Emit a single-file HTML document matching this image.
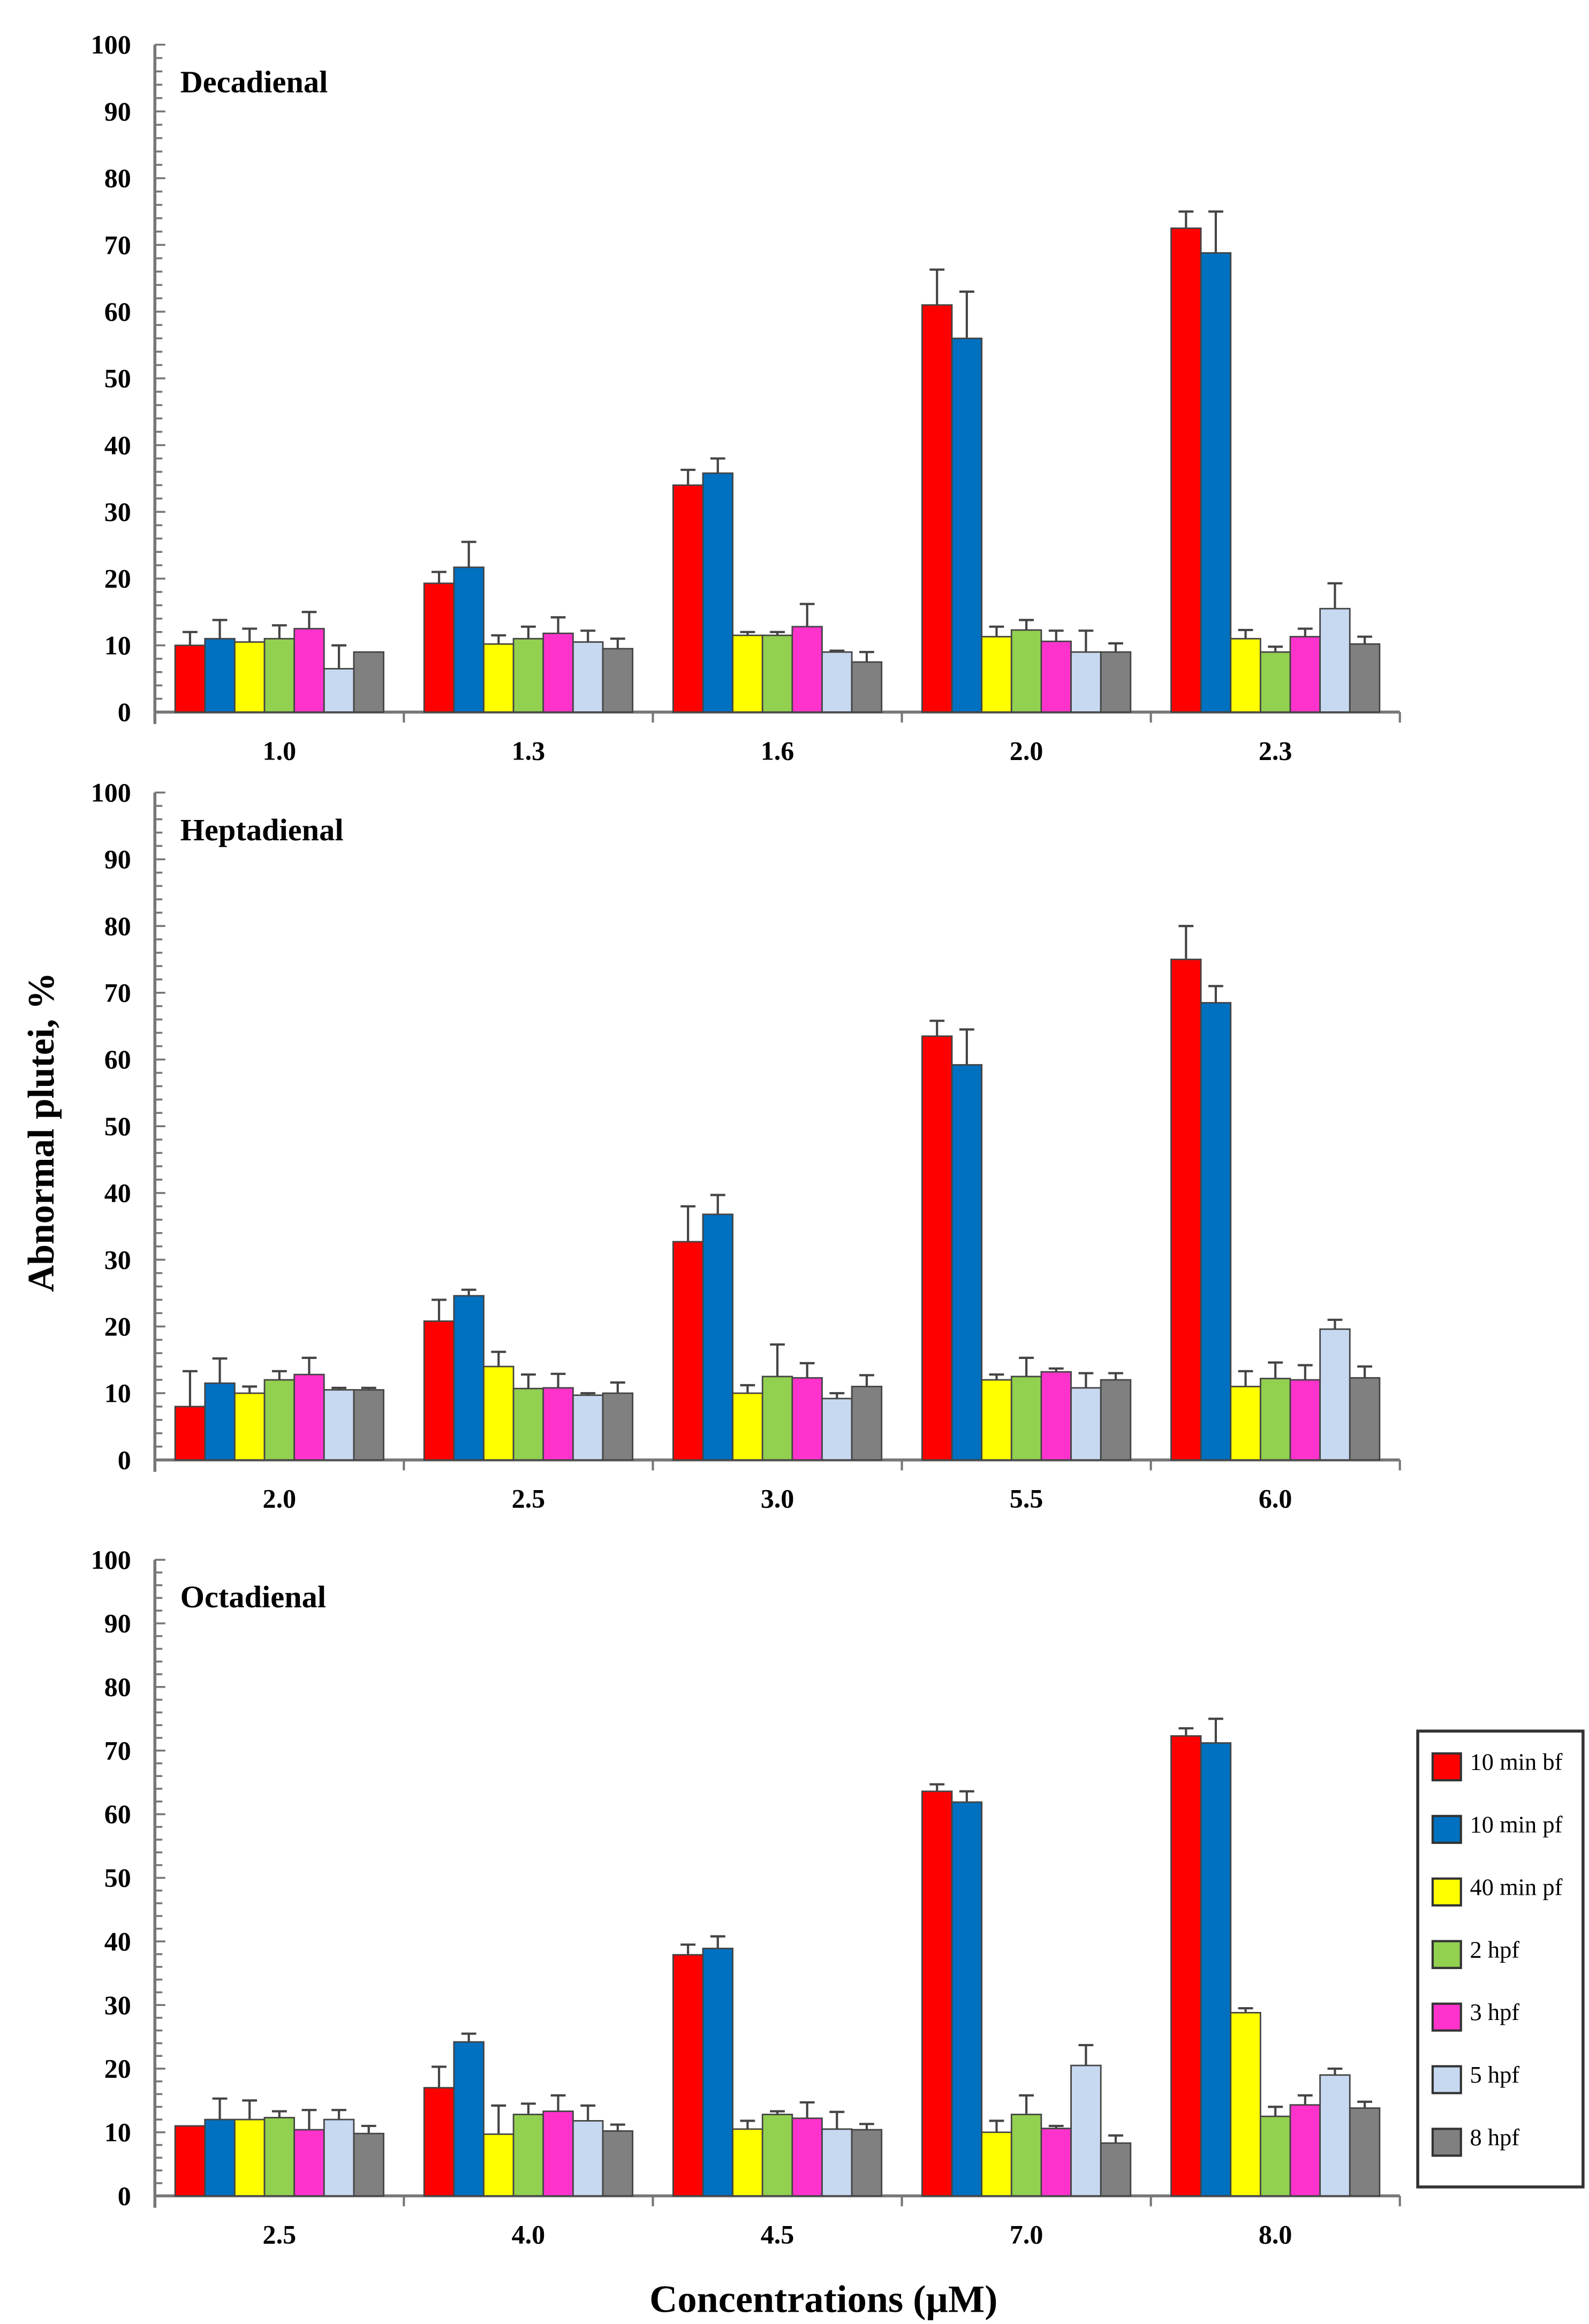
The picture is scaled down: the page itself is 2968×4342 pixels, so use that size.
<!DOCTYPE html>
<html><head><meta charset="utf-8"><style>
html,body{margin:0;padding:0;background:#fff;}
svg{display:block;}
text{font-family:"Liberation Serif",serif;font-weight:bold;fill:#000;}
</style></head><body>
<svg id="chart" xmlns="http://www.w3.org/2000/svg" width="2968" height="4342" viewBox="0 0 1067 1560" preserveAspectRatio="none"></svg>
<script>
const seriesNames = ["10 min bf","10 min pf","40 min pf","2 hpf","3 hpf","5 hpf","8 hpf"];
const seriesColors = ["#ff0000","#0070c0","#ffff00","#92d050","#ff33cc","#c6d9f1","#808080"];
const yTicks = [0,10,20,30,40,50,60,70,80,90,100];

const decaCats = ["1.0","1.3","1.6","2.0","2.3"];
const decaVals = [
  [10,11,10.5,11,12.5,6.5,9],
  [19.3,21.7,10.2,11,11.8,10.5,9.5],
  [34,35.8,11.5,11.5,12.8,9,7.5],
  [61,56,11.3,12.3,10.6,9,9],
  [72.5,68.8,11,9,11.3,15.5,10.2]];
const decaErr = [
  [2,2.8,2,2,2.5,3.5,0],
  [1.7,3.8,1.3,1.8,2.4,1.7,1.5],
  [2.3,2.2,0.5,0.5,3.4,0.2,1.5],
  [5.3,7,1.5,1.5,1.6,3.2,1.3],
  [2.5,6.2,1.3,0.8,1.2,3.8,1.1]];

const heptaCats = ["2.0","2.5","3.0","5.5","6.0"];
const heptaVals = [
  [8,11.5,10,12,12.8,10.5,10.5],
  [20.8,24.6,14,10.7,10.8,9.7,10],
  [32.7,36.8,10,12.5,12.3,9.2,11],
  [63.5,59.2,12,12.5,13.2,10.8,12],
  [75,68.5,11,12.2,12,19.6,12.3]];
const heptaErr = [
  [5.3,3.7,1,1.3,2.5,0.3,0.3],
  [3.2,0.9,2.2,2.1,2.1,0.3,1.6],
  [5.3,2.9,1.2,4.8,2.2,0.8,1.7],
  [2.3,5.3,0.8,2.8,0.5,2.2,1],
  [5,2.5,2.3,2.4,2.2,1.4,1.7]];

const octaCats = ["2.5","4.0","4.5","7.0","8.0"];
const octaVals = [
  [11,12,12,12.3,10.4,12,9.8],
  [17,24.2,9.7,12.8,13.3,11.8,10.2],
  [37.9,38.9,10.5,12.8,12.2,10.5,10.4],
  [63.6,61.9,10,12.8,10.6,20.5,8.3],
  [72.3,71.2,28.8,12.5,14.3,19,13.8]];
const octaErr = [
  [0,3.3,3,1,3.1,1.5,1.2],
  [3.3,1.3,4.5,1.7,2.5,2.4,1],
  [1.6,1.9,1.3,0.5,2.5,2.7,0.9],
  [1.1,1.7,1.8,3,0.4,3.2,1.2],
  [1.2,3.8,0.7,1.5,1.5,1,1]];

const NS="http://www.w3.org/2000/svg";
const svg=document.getElementById('chart');
function mk(tag,attrs,parent){const e=document.createElementNS(NS,tag);for(const k in attrs)e.setAttribute(k,attrs[k]);(parent||svg).appendChild(e);return e;}

function panel(key,title,cats,vals,errs,y0,y100){
  const g=mk('g',{});
  
  
  const x0=104, gw=167.2, bw=20;
  const ys=v=>y0-(v/100)*(y0-y100);
  const xg=i=>x0+i*gw;
  const ax=mk('line',{x1:x0,y1:y100,x2:x0,y2:y0+8,stroke:'#777','stroke-width':2},g);
  
  
  for(let v=0;v<=100;v+=2){
    mk('line',{x1:x0,x2:x0+(v%10===0?7:5),y1:ys(v),y2:ys(v),stroke:'#777','stroke-width':1.3},g);
  }
  yTicks.forEach(v=>{
    const t=mk('text',{x:88,y:ys(v)+6,'text-anchor':'end','font-size':18},g);
    t.textContent=v;
    
    
  });
  const xa=mk('line',{x1:x0,y1:y0,x2:x0+5*gw,y2:y0,stroke:'#777','stroke-width':2},g);
  
  
  for(let i=1;i<=5;i++) mk('line',{x1:xg(i),x2:xg(i),y1:y0,y2:y0+7,stroke:'#777','stroke-width':1.5},g);
  cats.forEach((c,i)=>{
    const t=mk('text',{x:xg(i)+gw/2,y:y0+32,'text-anchor':'middle','font-size':18},g);
    t.textContent=c;
    
    
    const start=xg(i)+gw/2-bw*vals[i].length/2;
    vals[i].forEach((v,j)=>{
      const bx=start+j*bw;
      const top=ys(v);
      if(errs[i][j]>0){
        const et=ys(v+errs[i][j]);
        const el=mk('path',{d:`M${bx+bw/2},${top}V${et}M${bx+bw/2-5},${et}H${bx+bw/2+5}`,stroke:'#444','stroke-width':1.5,fill:'none'},g);
        
        
      }
      const r=mk('rect',{x:bx,y:top,width:bw,height:y0-top,fill:seriesColors[j],stroke:'#444','stroke-width':1},g);
      
      
    });
  });
  const tt=mk('text',{x:121,y:y100+32,'font-size':21},g);
  tt.textContent=title;
  
  
}
panel('decadienal','Decadienal',decaCats,decaVals,decaErr,478,30);
panel('heptadienal','Heptadienal',heptaCats,heptaVals,heptaErr,980,532);
panel('octadienal','Octadienal',octaCats,octaVals,octaErr,1474,1047);

const yt=mk('text',{x:0,y:0,'text-anchor':'middle','font-size':25,transform:'translate(36,760) rotate(-90)'});
yt.textContent='Abnormal plutei, %';


const xt=mk('text',{x:553,y:1552,'text-anchor':'middle','font-size':26});
xt.textContent='Concentrations (µM)';



const lg=mk('g',{});


mk('rect',{x:952,y:1162,width:111,height:306,fill:'#fff',stroke:'#333','stroke-width':2},lg);
seriesNames.forEach((n,j)=>{
  const cy=1186+j*42;
  const s=mk('rect',{x:962,y:cy-9,width:19,height:18,fill:seriesColors[j],stroke:'#333','stroke-width':1.5},lg);
  
  
  const t=mk('text',{x:987,y:cy+2,'font-size':16},lg);
  t.style.fontWeight='normal';
  t.textContent=n;
  
  
});
</script>
</body></html>
